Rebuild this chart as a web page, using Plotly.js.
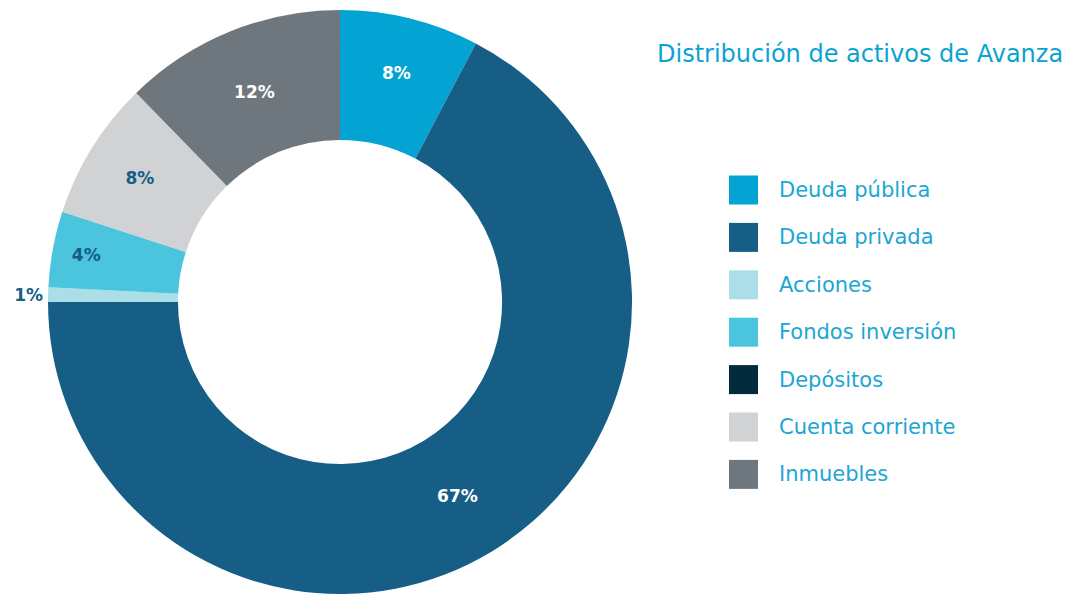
<!DOCTYPE html>
<html>
<head>
<meta charset="utf-8">
<script src="https://cdn.plot.ly/plotly-3.0.1.min.js"></script>
<style>html,body{margin:0;padding:0;background:#fff;}#chart{width:1074px;height:594px;}</style>
</head>
<body>
<div id="chart"></div>
<script>
const categories = ["Deuda pública", "Deuda privada", "Acciones", "Fondos inversión", "Depósitos", "Cuenta corriente", "Inmuebles"];
const values = [7.7, 67.3, 0.8, 4.2, 0, 7.7, 12.3];
const colors = ["#03A4D3", "#175E87", "#ABDEE6", "#4BC4DE", "#022A3C", "#D1D2D4", "#6F777E"];
const labelColors = ["#ffffff", "#ffffff", "#175E87", "#175E87", "#ffffff", "#175E87", "#ffffff"];
const chartTitle = "Distribución de activos de Avanza";

const total = values.reduce((a, b) => a + b, 0);
const texts = values.map(v => v > 0 ? Math.max(1, Math.round(v / total * 100)) + "%" : "");
const positions = values.map(v => (v / total < 0.02 ? "outside" : "inside"));

const labelFont = "'DejaVu Sans', sans-serif";
const trace = {
  type: "pie",
  labels: categories,
  values: values,
  text: texts,
  textinfo: "text",
  textposition: positions,
  insidetextorientation: "horizontal",
  hole: 0.555,
  sort: false,
  direction: "clockwise",
  rotation: 0,
  marker: {colors: colors, line: {width: 0}},
  textfont: {family: labelFont, size: 17, weight: "bold", color: labelColors},
  outsidetextfont: {family: labelFont, size: 17, weight: "bold", color: "#175E87"},
  insidetextfont: {family: labelFont, size: 17, weight: "bold", color: labelColors},
  domain: {x: [0.0447, 0.5885], y: [0.0, 0.9832]},
  showlegend: false,
  automargin: false,
  hoverinfo: "label+percent"
};

const shapes = [];
const annotations = [];
const rowTop = 190, rowStep = 47.4, H = 594, W = 1074;
categories.forEach((c, i) => {
  const yc = rowTop + i * rowStep;
  shapes.push({type: "rect", xref: "paper", yref: "paper",
    x0: 729 / W, x1: 758 / W, y0: 1 - (yc + 14.5) / H, y1: 1 - (yc - 14.5) / H,
    fillcolor: colors[i], line: {width: 0}});
  annotations.push({xref: "paper", yref: "paper", x: 777 / W, y: 1 - yc / H,
    xanchor: "left", yanchor: "middle", showarrow: false, text: c,
    font: {family: "'DejaVu Sans', sans-serif", size: 21, color: "#1BA6D4"}});
});
annotations.push({xref: "paper", yref: "paper", x: 1065 / W, y: 1 - 54 / H,
  xanchor: "right", yanchor: "middle", showarrow: false, text: chartTitle,
  font: {family: "'DejaVu Sans', sans-serif", size: 24, color: "#0AA3D2"}});

const layout = {
  width: 1074, height: 594,
  margin: {l: 0, r: 0, t: 0, b: 0},
  paper_bgcolor: "#ffffff",
  plot_bgcolor: "#ffffff",
  showlegend: false,
  shapes: shapes,
  annotations: annotations
};

Plotly.newPlot("chart", [trace], layout, {displayModeBar: false, staticPlot: true});
</script>
</body>
</html>
